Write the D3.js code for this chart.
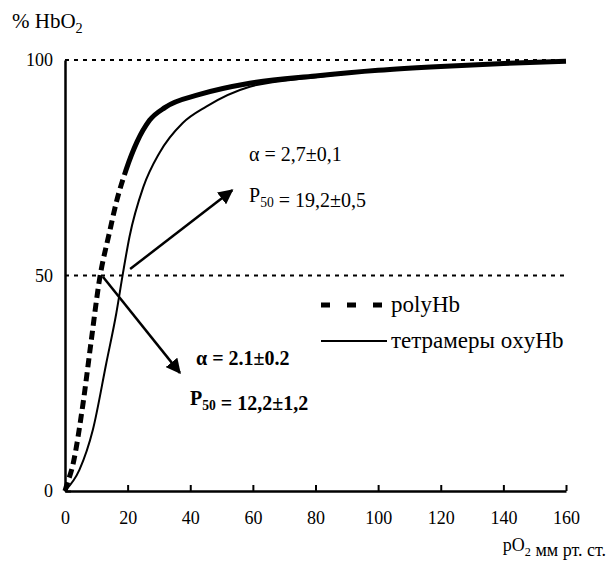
<!DOCTYPE html>
<html>
<head>
<meta charset="utf-8">
<script src="https://cdn.jsdelivr.net/npm/d3@7"></script>
<style>
  body { margin: 0; background: #fff; }
  text { font-family: "Liberation Serif", "Times New Roman", serif; fill: #000; }
</style>
</head>
<body>
<svg id="chart" width="613" height="563"></svg>
<script>
// кривые насыщения
const polyPO2 = [0, 0.4, 2.5, 5.7, 8.4, 11, 14.2, 16.4, 19.5, 23, 27, 32, 43, 59, 80, 100, 120, 140, 160];
const polySat = [0, 1, 6, 20, 35, 49, 60, 67, 74.5, 81, 86, 89, 92, 94.6, 96.3, 97.6, 98.5, 99.2, 99.7];
const polyDashedEnd = 19.5; // до этой точки polyHb рисуется пунктиром

const tetraPO2 = [0, 4.6, 8.9, 13.2, 16.4, 18.5, 20.6, 25, 30.2, 37.6, 45.1, 59, 80, 100, 120, 140, 160];
const tetraSat = [0, 4.9, 14.2, 29.7, 41.3, 50.5, 59, 70.5, 78.5, 85.4, 89.2, 93.8, 96, 97.5, 98.5, 99.1, 99.6];

const xTicks = [0, 20, 40, 60, 80, 100, 120, 140, 160];
const yTicks = [0, 50, 100];
const gridLevels = [50, 100];

const svg = d3.select('#chart');
const x = d3.scaleLinear().domain([0, 160]).range([65, 566]);
const y = d3.scaleLinear().domain([0, 100]).range([491, 60]);

// пунктирные линии 50 и 100
svg.selectAll('line.grid')
  .data(gridLevels)
  .enter()
  .append('line')
  .attr('class', 'grid')
  .attr('x1', x(0)).attr('x2', x(160))
  .attr('y1', d => y(d)).attr('y2', d => y(d))
  .attr('stroke', '#000')
  .attr('stroke-width', 2)
  .attr('stroke-dasharray', '4,5');

// оси
const xAxis = svg.append('g')
  .attr('transform', `translate(0,${y(0)})`)
  .call(d3.axisBottom(x).tickValues(xTicks).tickSizeInner(-6).tickSizeOuter(0).tickPadding(20));
const yAxis = svg.append('g')
  .attr('transform', `translate(${x(0)},0)`)
  .call(d3.axisLeft(y).tickValues(yTicks).tickSizeInner(-6).tickSizeOuter(0).tickPadding(12));

[xAxis, yAxis].forEach(g => {
  g.select('.domain').attr('stroke', '#000').attr('stroke-width', 2.5);
  g.selectAll('.tick line').attr('stroke', '#000').attr('stroke-width', 2);
  g.selectAll('.tick text')
    .style('font-family', '"Liberation Serif", serif')
    .style('font-size', '18px')
    .attr('fill', '#000');
});
yAxis.selectAll('.tick line').filter(d => d !== 0).attr('x2', 0);

const line = d3.line()
  .x(d => x(d[0]))
  .y(d => y(d[1]))
  .curve(d3.curveMonotoneX);

const polyData = d3.zip(polyPO2, polySat);
const tetraData = d3.zip(tetraPO2, tetraSat);

// тетрамеры — тонкая линия
svg.append('path')
  .datum(tetraData)
  .attr('d', line)
  .attr('fill', 'none')
  .attr('stroke', '#000')
  .attr('stroke-width', 2);

// polyHb — толстая, внизу пунктир, дальше сплошная
const polyPath = svg.append('path')
  .datum(polyData)
  .attr('d', line)
  .attr('fill', 'none')
  .attr('stroke', '#000')
  .attr('stroke-width', 5);

const node = polyPath.node();
const total = node.getTotalLength();
let splitLen = 0;
while (splitLen < total && node.getPointAtLength(splitLen).x < x(polyDashedEnd)) splitLen += 0.5;
const dashes = [];
let pos = 0;
while (pos + 14 <= splitLen) { dashes.push(9, 5); pos += 14; }
dashes.push(total, 0);
polyPath.attr('stroke-dasharray', dashes.join(','));

// стрелки
svg.append('defs').append('marker')
  .attr('id', 'arr')
  .attr('viewBox', '0 0 10 10')
  .attr('refX', 9).attr('refY', 5)
  .attr('markerWidth', 6).attr('markerHeight', 6)
  .attr('markerUnits', 'strokeWidth')
  .attr('orient', 'auto')
  .append('path')
  .attr('d', 'M0,0 L10,5 L0,10 Z')
  .attr('fill', '#000');

const arrows = [
  { from: [20.8, 51.5], to: [53.4, 69.8] },
  { from: [12.1, 49.7], to: [36.7, 27.4] }
];
svg.selectAll('line.arrow')
  .data(arrows)
  .enter()
  .append('line')
  .attr('class', 'arrow')
  .attr('x1', d => x(d.from[0])).attr('y1', d => y(d.from[1]))
  .attr('x2', d => x(d.to[0])).attr('y2', d => y(d.to[1]))
  .attr('stroke', '#000')
  .attr('stroke-width', 2.5)
  .attr('marker-end', 'url(#arr)');

// подписи
function label(xp, yp, parts, opts) {
  const t = svg.append('text')
    .attr('x', xp).attr('y', yp)
    .style('font-size', opts.size + 'px')
    .style('font-weight', opts.bold ? 'bold' : 'normal');
  if (opts.anchor) t.attr('text-anchor', opts.anchor);
  parts.forEach(p => {
    if (p.sub) {
      t.append('tspan').text(p.sub).attr('dy', 5).style('font-size', (opts.size * 0.68) + 'px');
      t.append('tspan').text('').attr('dy', -5);
    } else {
      t.append('tspan').text(p.t);
    }
  });
  return t;
}

label(12, 28, [{ t: '% HbO' }, { sub: '2' }], { size: 21 });
label(606, 551, [{ t: 'pO' }, { sub: '2' }, { t: ' мм рт. ст.' }], { size: 18, anchor: 'end' });

label(249, 161, [{ t: 'α = 2,7±0,1' }], { size: 20 });
label(249, 202, [{ t: 'P' }, { sub: '50' }, { t: ' = 19,2±0,5' }], { size: 20 });
label(196, 365, [{ t: 'α = 2.1±0.2' }], { size: 20, bold: true });
label(190, 405, [{ t: 'P' }, { sub: '50' }, { t: ' = 12,2±1,2' }], { size: 20, bold: true });

// легенда
svg.append('line')
  .attr('x1', 321).attr('x2', 386).attr('y1', 305).attr('y2', 305)
  .attr('stroke', '#000').attr('stroke-width', 5)
  .attr('stroke-dasharray', '9,17');
svg.append('line')
  .attr('x1', 321).attr('x2', 387).attr('y1', 341).attr('y2', 341)
  .attr('stroke', '#000').attr('stroke-width', 2);
label(391, 312, [{ t: 'polyHb' }], { size: 23 });
label(391, 348, [{ t: 'тетрамеры oxyHb' }], { size: 23 });
</script>
</body>
</html>
